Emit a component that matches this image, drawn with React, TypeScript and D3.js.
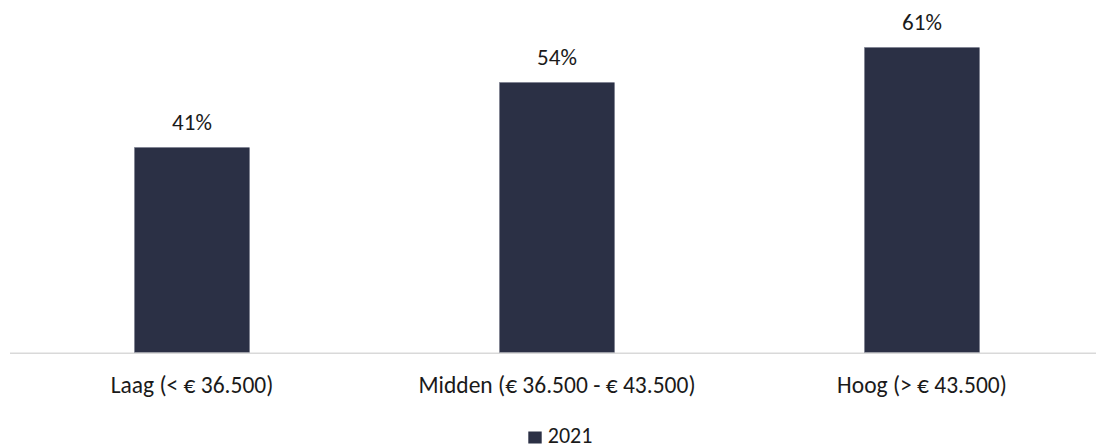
import React, { useEffect } from "react";
import * as d3 from "d3";

// chart data
const categories = [
  "Laag (< € 36.500)",
  "Midden (€ 36.500 - € 43.500)",
  "Hoog (> € 43.500)",
];
const values2021 = [0.41, 0.54, 0.61];
const seriesName = "2021";

const W = 1096;
const H = 447;
const barColor = "#2b3045";
const textColor = "#1a1a1a";
const font = "Carlito, Calibri, Lato, sans-serif";

const App = () => {
  useEffect(() => {
    document.body.style.margin = "0";
  }, []);

  // scales (plot area runs a little past the right edge, like the source)
  const x = d3
    .scaleBand<string>()
    .domain(categories)
    .range([9.5, 1104.5])
    .paddingInner(0.686)
    .paddingOuter(0.343);
  const y = d3.scaleLinear().domain([0, 0.7]).range([352.7, 2.7]);
  const fmt = d3.format(".0%");

  return (
    <svg
      width={W}
      height={H}
      style={{ display: "block", background: "#fff" }}
      fontFamily={font}
    >
      {/* bars */}
      {categories.map((c, i) => (
        <rect
          key={c}
          x={x(c)}
          y={y(values2021[i])}
          width={x.bandwidth()}
          height={y(0) - y(values2021[i])}
          fill={barColor}
          stroke="#5a5f72"
          strokeWidth={0.6}
        />
      ))}

      {/* value labels */}
      {categories.map((c, i) => (
        <text
          key={"v" + c}
          x={(x(c) as number) + x.bandwidth() / 2}
          y={y(values2021[i]) - 17.5}
          textAnchor="middle"
          fontSize={23}
          fill={textColor}
        >
          {fmt(values2021[i])}
        </text>
      ))}

      {/* category axis */}
      <line x1={10} x2={W} y1={y(0) + 0.5} y2={y(0) + 0.5} stroke="#d9d9d9" strokeWidth={1.5} />
      {categories.map((c) => (
        <text
          key={"c" + c}
          x={(x(c) as number) + x.bandwidth() / 2}
          y={y(0) + 40.5}
          textAnchor="middle"
          fontSize={23.5}
          fill={textColor}
        >
          {c}
        </text>
      ))}

      {/* legend */}
      <g transform="translate(528.3, 431.5)">
        <rect x={0} y={0} width={13.4} height={12} fill={barColor} />
        <text x={19.5} y={11} fontSize={22} fill={textColor}>
          {seriesName}
        </text>
      </g>
    </svg>
  );
};

export default App;
